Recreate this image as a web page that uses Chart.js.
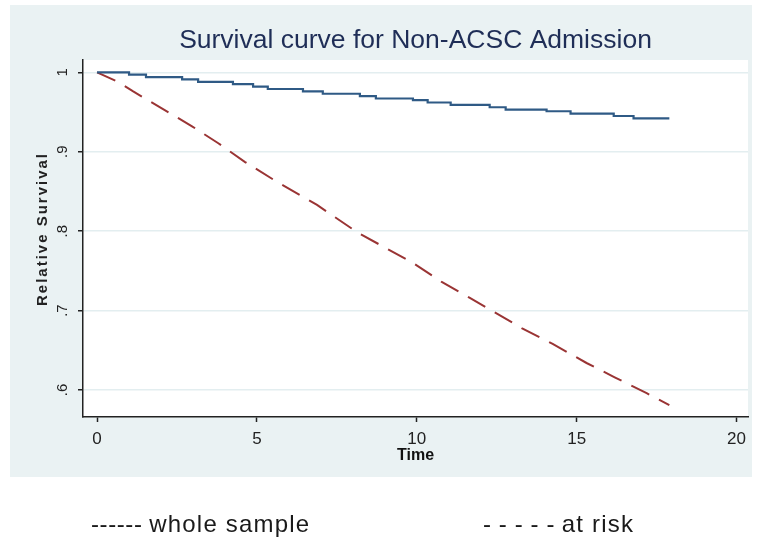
<!DOCTYPE html>
<html lang="en">
<head>
    <meta charset="UTF-8">
    <title>Survival curve for Non-ACSC Admission</title>
    <script src="https://cdn.jsdelivr.net/npm/chart.js"></script>
    <style>
        body { margin: 0; background: #fff; }
        .wrap { position: relative; width: 759px; height: 546px; overflow: hidden; }
        #chart { position: absolute; left: 0; top: 0; }
        .key {
            position: absolute;
            font-family: "Liberation Sans", Arial, sans-serif;
            font-size: 24px;
            line-height: 24px;
            color: #1a1a1a;
            white-space: nowrap;
        }
        .key .txt { letter-spacing: 1.2px; }
        .key .dash { letter-spacing: 0.6px; }
    </style>
</head>
<body>
    <div class="wrap">
        <canvas id="chart" width="759" height="546"></canvas>
        <div class="key" style="left: 91px; top: 512px;"><span class="dash">------</span> <span class="txt">whole sample</span></div>
        <div class="key" style="left: 483px; top: 512px;"><span class="dash">- - - - -</span> <span class="txt">at risk</span></div>
    </div>

    <script>
        // Data
        const wholeTime = [0, 1.0, 1.53, 2.66, 3.16, 4.25, 4.88, 5.34, 6.44, 7.06, 8.22, 8.72, 9.88, 10.34, 11.06, 12.28, 12.78, 14.06, 14.81, 16.16, 16.78, 17.9];
        const wholeSurv = [1.000, 0.997, 0.994, 0.991, 0.988, 0.985, 0.982, 0.979, 0.976, 0.973, 0.970, 0.967, 0.965, 0.962, 0.959, 0.956, 0.953, 0.951, 0.948, 0.945, 0.942, 0.942];

        const riskTime = [0, 0.66, 1.13, 2.13, 2.97, 3.78, 4.63, 5.63, 6.88, 8.16, 9.88, 10.78, 11.66, 13.28, 14.25, 15.31, 16.19, 17.19, 17.9];
        const riskSurv = [1.0, 0.988, 0.976, 0.952, 0.932, 0.911, 0.887, 0.862, 0.833, 0.798, 0.760, 0.736, 0.716, 0.678, 0.658, 0.634, 0.616, 0.596, 0.581];

        const xTicks = [0, 5, 10, 15, 20];
        const yTicks = [0.6, 0.7, 0.8, 0.9, 1];
        const yTickLabels = ['.6', '.7', '.8', '.9', '1'];

        const chartTitle = 'Survival curve for Non-ACSC Admission';
        const yTitle = 'Relative Survival';
        const xTitle = 'Time';

        const FONT = '"Liberation Sans", Arial, sans-serif';

        // Stata-like background, title and rotated y labels
        const stataLook = {
            id: 'stataLook',
            beforeDraw(chart) {
                const { ctx, chartArea } = chart;
                ctx.save();
                ctx.fillStyle = '#eaf2f3';
                ctx.fillRect(10, 5, 742, 472);
                ctx.fillStyle = '#ffffff';
                ctx.fillRect(chartArea.left, chartArea.top, chartArea.right - chartArea.left, chartArea.bottom - chartArea.top);

                ctx.fillStyle = '#1f2e57';
                ctx.font = '26.5px ' + FONT;
                ctx.textAlign = 'center';
                ctx.textBaseline = 'alphabetic';
                ctx.fillText(chartTitle, (chartArea.left + chartArea.right) / 2, 48);
                ctx.restore();
            },
            afterDraw(chart) {
                const { ctx } = chart;
                const y = chart.scales.y;
                ctx.save();
                ctx.fillStyle = '#222';
                ctx.textAlign = 'center';
                ctx.textBaseline = 'alphabetic';
                ctx.font = '15px ' + FONT;
                yTicks.forEach((v, i) => {
                    ctx.save();
                    ctx.translate(67, y.getPixelForValue(v));
                    ctx.rotate(-Math.PI / 2);
                    ctx.fillText(yTickLabels[i], 0, 0);
                    ctx.restore();
                });
                ctx.font = 'bold 15px ' + FONT;
                ctx.letterSpacing = '2px';
                ctx.translate(47, 229);
                ctx.rotate(-Math.PI / 2);
                ctx.fillText(yTitle, 0, 0);
                ctx.restore();
            }
        };

        new Chart(document.getElementById('chart'), {
            type: 'line',
            data: {
                datasets: [{
                    label: 'whole sample',
                    data: wholeTime.map((t, i) => ({ x: t, y: wholeSurv[i] })),
                    borderColor: '#2f5a85',
                    borderWidth: 2.2,
                    stepped: true,
                    pointRadius: 0,
                    fill: false
                }, {
                    label: 'at risk',
                    data: riskTime.map((t, i) => ({ x: t, y: riskSurv[i] })),
                    borderColor: '#9a3434',
                    borderWidth: 2,
                    borderDash: [20, 11],
                    pointRadius: 0,
                    tension: 0,
                    fill: false
                }]
            },
            options: {
                responsive: false,
                animation: false,
                devicePixelRatio: 1,
                layout: { padding: { left: 0, top: 60, right: 11, bottom: 79 } },
                plugins: {
                    legend: { display: false },
                    tooltip: { enabled: false },
                    title: { display: false }
                },
                scales: {
                    x: {
                        type: 'linear',
                        min: -0.44,
                        max: 20.36,
                        afterBuildTicks: (scale) => { scale.ticks = xTicks.map(v => ({ value: v })); },
                        afterFit: (scale) => { scale.height = 50; },
                        grid: { drawOnChartArea: false, drawTicks: true, tickLength: 5, tickColor: '#222', tickWidth: 1.5 },
                        border: { display: true, color: '#222', width: 1.5 },
                        ticks: { color: '#222', font: { family: FONT, size: 17 }, padding: 7, maxRotation: 0 },
                        title: { display: true, text: xTitle, color: '#111', font: { family: FONT, size: 16, weight: 'bold' }, padding: { top: 0, bottom: 2 } }
                    },
                    y: {
                        type: 'linear',
                        min: 0.566,
                        max: 1.0155,
                        afterBuildTicks: (scale) => { scale.ticks = yTicks.map(v => ({ value: v })); },
                        afterFit: (scale) => { scale.width = 83; },
                        grid: { color: '#e3eef0', lineWidth: 1.5, drawTicks: true, tickLength: 5, tickColor: '#222', tickWidth: 1.5 },
                        border: { display: true, color: '#222', width: 1.5 },
                        ticks: { display: false }
                    }
                }
            },
            plugins: [stataLook]
        });
    </script>
</body>
</html>
